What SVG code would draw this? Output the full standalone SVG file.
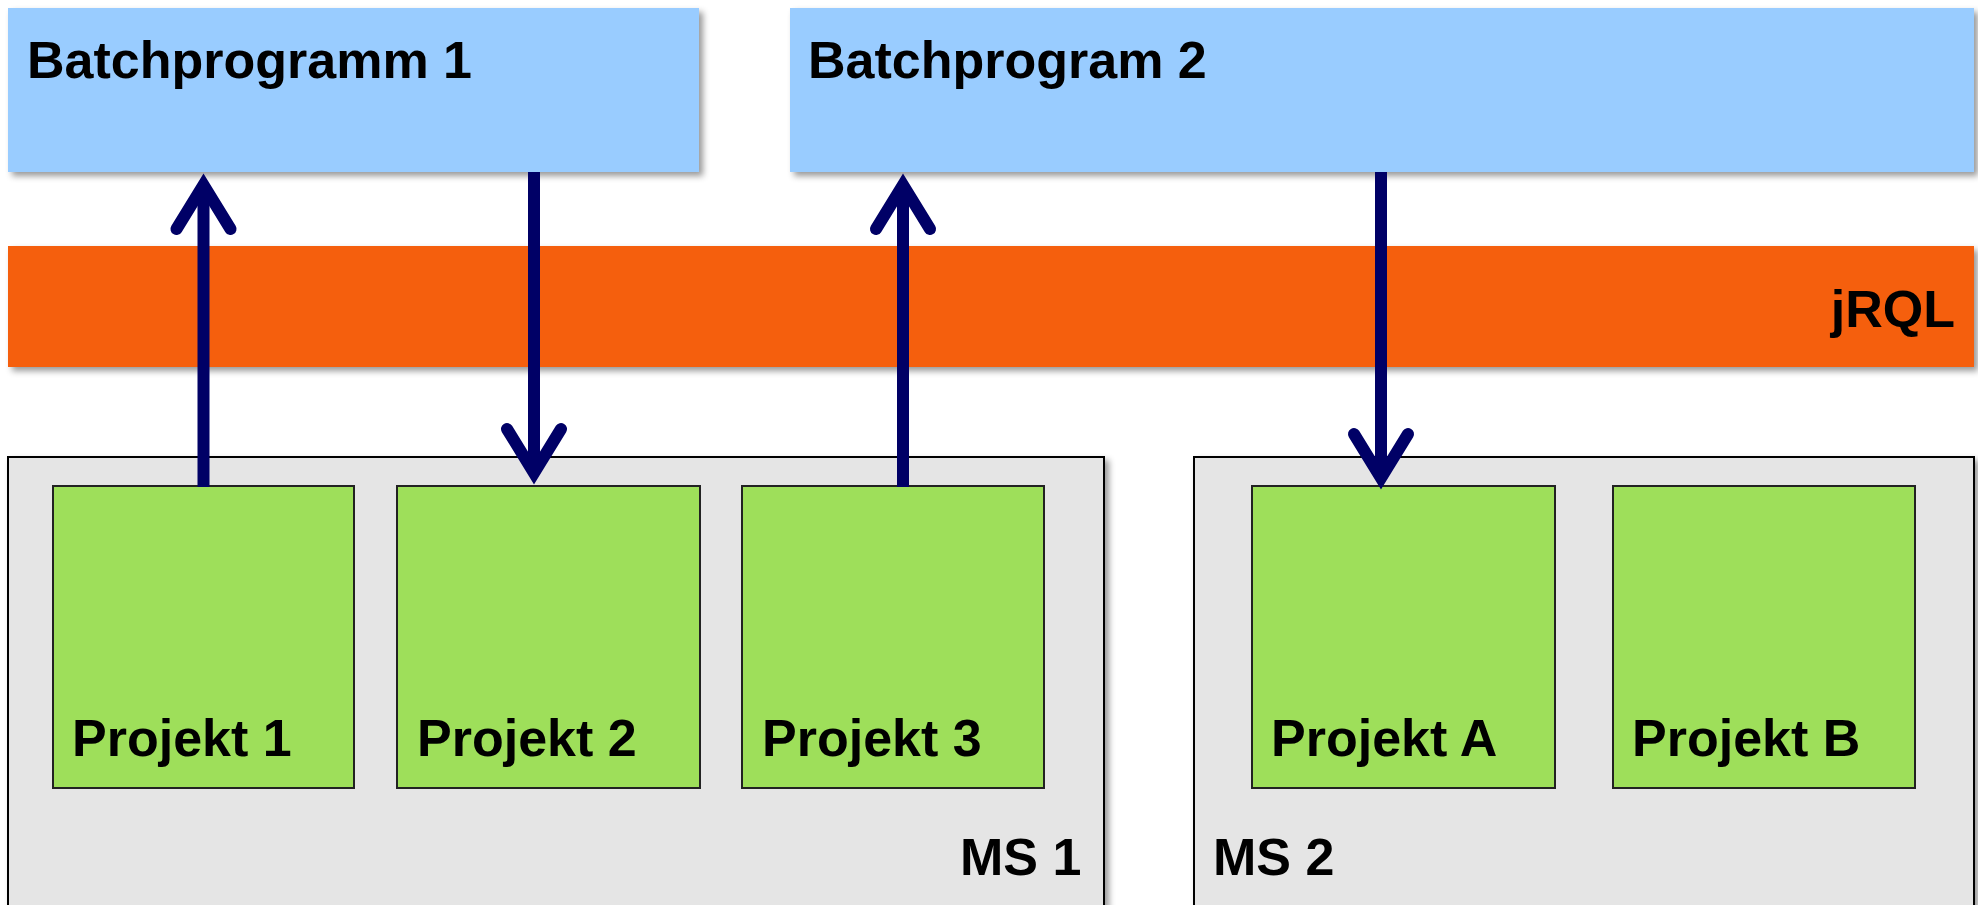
<svg xmlns="http://www.w3.org/2000/svg" width="1978" height="905" viewBox="0 0 1978 905">
<style>
.txt{font-family:"Liberation Sans",Arial,sans-serif;font-weight:bold;font-size:52px;fill:#000}
.batch{fill:#99CCFF}
.ms{fill:#E5E5E5;stroke:#000;stroke-width:2}
.proj{fill:#9EDF5A;stroke:#222;stroke-width:2}
.conn{stroke:#000066;stroke-width:12;fill:none}
.head{stroke:#000066;stroke-width:12;fill:none;stroke-linecap:round;stroke-linejoin:miter}
</style>
<defs>
<filter id="sh" x="-5%" y="-10%" width="115%" height="130%">
<feDropShadow dx="4" dy="4" stdDeviation="3" flood-color="#000" flood-opacity="0.4"/>
</filter>
<path id="headUp" class="head" d="M-27,44 L0,0 L27,44"/>
<path id="headDown" class="head" d="M-27,-44 L0,0 L27,-44"/>
</defs>
<rect width="1978" height="905" fill="#fff"/>
<g id="batch1">
<rect class="batch" x="8" y="8" width="691" height="164" filter="url(#sh)"/>
<text class="txt" x="27" y="78">Batchprogramm 1</text>
</g>
<g id="batch2">
<rect class="batch" x="790" y="8" width="1184" height="164" filter="url(#sh)"/>
<text class="txt" x="808" y="78">Batchprogram 2</text>
</g>
<g id="jrql">
<rect x="8" y="246" width="1966" height="121" fill="#F55E08" filter="url(#sh)"/>
<text class="txt" x="1955" y="327" text-anchor="end">jRQL</text>
</g>
<g id="ms1">
<rect class="ms" x="8" y="457" width="1096" height="460" filter="url(#sh)"/>
<text class="txt" x="960" y="875">MS 1</text>
</g>
<g id="ms2">
<rect class="ms" x="1194" y="457" width="780" height="460" filter="url(#sh)"/>
<text class="txt" x="1213" y="875">MS 2</text>
</g>
<g id="projekt1">
<rect class="proj" x="53" y="486" width="301" height="302"/>
<text class="txt" x="72" y="756">Projekt 1</text>
</g>
<g id="projekt2">
<rect class="proj" x="397" y="486" width="303" height="302"/>
<text class="txt" x="417" y="756">Projekt 2</text>
</g>
<g id="projekt3">
<rect class="proj" x="742" y="486" width="302" height="302"/>
<text class="txt" x="762" y="756">Projekt 3</text>
</g>
<g id="projektA">
<rect class="proj" x="1252" y="486" width="303" height="302"/>
<text class="txt" x="1271" y="756">Projekt A</text>
</g>
<g id="projektB">
<rect class="proj" x="1613" y="486" width="302" height="302"/>
<text class="txt" x="1632" y="756">Projekt B</text>
</g>
<g id="connectors">
<line class="conn" x1="203.5" y1="190" x2="203.5" y2="487"/>
<use href="#headUp" x="203.5" y="185"/>
<line class="conn" x1="534" y1="172" x2="534" y2="470"/>
<use href="#headDown" x="534" y="473"/>
<line class="conn" x1="903" y1="190" x2="903" y2="487"/>
<use href="#headUp" x="903" y="185"/>
<line class="conn" x1="1381" y1="172" x2="1381" y2="475"/>
<use href="#headDown" x="1381" y="478"/>
</g>
</svg>
